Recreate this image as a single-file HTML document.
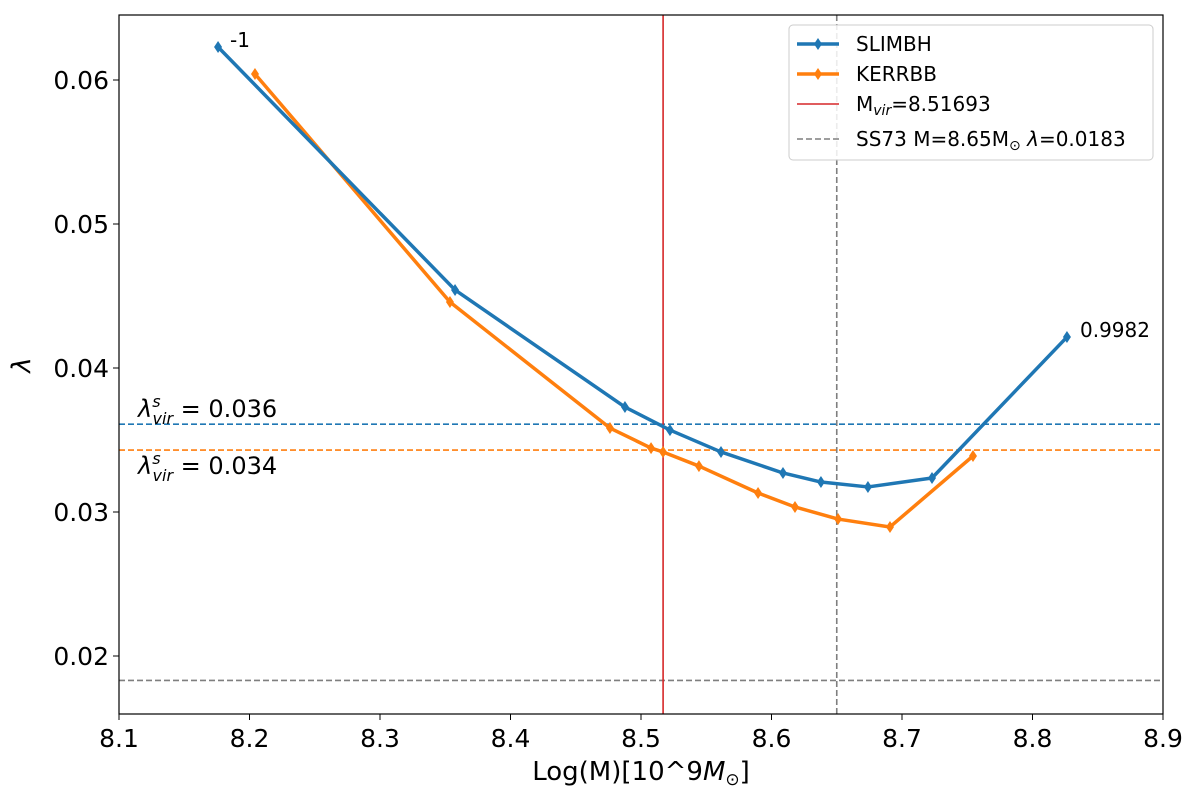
<!DOCTYPE html>
<html><head><meta charset="utf-8"><style>
body{margin:0;background:#fff;}
svg text{font-family:"DejaVu Sans","Liberation Sans",sans-serif;}
</style></head><body>
<svg id="chart" width="1200" height="788" xmlns="http://www.w3.org/2000/svg">
<g id="plot"></g>
</svg>
<script>
const xTicks=[8.1,8.2,8.3,8.4,8.5,8.6,8.7,8.8,8.9];
const yTicks=[0.02,0.03,0.04,0.05,0.06];
const slimX=[8.1759,8.3575,8.4877,8.5222,8.5613,8.6088,8.6379,8.6739,8.7230,8.8264];
const slimY=[0.06229,0.04542,0.03729,0.03569,0.03417,0.03271,0.03208,0.03174,0.03236,0.04215];
const kerrX=[8.2042,8.3536,8.4762,8.5077,8.5169,8.5444,8.5897,8.6180,8.6510,8.6908,8.7544];
const kerrY=[0.06042,0.04458,0.03583,0.03444,0.03417,0.03319,0.03132,0.03035,0.02951,0.02896,0.03389];
const hVals=[0.0361,0.0343,0.0183];
const vVals=[8.51693,8.65];

const L=119,R=1163,T=15,B=714;
const X=v=>L+(v-8.1)*(R-L)/0.8;
const Y=v=>80+(0.06-v)*14400;
const NS="http://www.w3.org/2000/svg";
const g=document.getElementById('plot');
function el(tag,attrs,parent){const e=document.createElementNS(NS,tag);for(const k in attrs)e.setAttribute(k,attrs[k]);(parent||g).appendChild(e);return e;}

const hCols=['#1f77b4','#ff7f0e','#7f7f7f'];
hVals.forEach((v,i)=>{const l=el('line',{x1:L,x2:R,y1:Y(v),y2:Y(v),stroke:hCols[i],'stroke-width':1.6,'stroke-dasharray':'6,3'});

});
const vl=el('line',{x1:X(vVals[0]),x2:X(vVals[0]),y1:T,y2:B,stroke:'#d62728','stroke-width':1.6});


const vl2=el('line',{x1:X(vVals[1]),x2:X(vVals[1]),y1:T,y2:B,stroke:'#7f7f7f','stroke-width':1.6,'stroke-dasharray':'6,3'});



function series(xs,ys,col,name){
 const p=el('polyline',{points:xs.map((x,i)=>X(x)+','+Y(ys[i])).join(' '),fill:'none',stroke:col,'stroke-width':3.5,'stroke-linejoin':'round'});
 
 
 xs.forEach((x,i)=>{const cx=X(x),cy=Y(ys[i]);
  const m=el('polygon',{points:`${cx},${cy-6} ${cx+4},${cy} ${cx},${cy+6} ${cx-4},${cy}`,fill:col});
  
  });
}
series(kerrX,kerrY,'#ff7f0e','kerrbb');
series(slimX,slimY,'#1f77b4','slimbh');

el('rect',{x:L,y:T,width:R-L,height:B-T,fill:'none',stroke:'#000','stroke-width':1.2});
xTicks.forEach(v=>{el('line',{x1:X(v),x2:X(v),y1:B,y2:B+6,stroke:'#000'});
 const t=el('text',{x:X(v),y:B+33,'font-size':25,'text-anchor':'middle'});t.textContent=v.toFixed(1);
 
 });
yTicks.forEach(v=>{el('line',{x1:L-6,x2:L,y1:Y(v),y2:Y(v),stroke:'#000'});
 const t=el('text',{x:L-10,y:Y(v)+9,'font-size':25,'text-anchor':'end'});t.textContent=v.toFixed(2);
 
 });
</script>
<svg width="1200" height="788" style="position:absolute;left:0;top:0" xmlns="http://www.w3.org/2000/svg">
<text x="641" y="780" font-size="26" text-anchor="middle" font-family="DejaVu Sans,sans-serif">Log(M)[10^9<tspan font-style="italic">M</tspan><tspan font-size="17" dy="5">⊙</tspan><tspan dy="-5">]</tspan></text>
<text x="30" y="365" font-size="26" font-style="italic" text-anchor="middle" transform="rotate(-90 30 365)" font-family="DejaVu Sans,sans-serif">λ</text>
<text x="230" y="47" font-size="20" font-family="DejaVu Sans,sans-serif">-1</text>
<text x="1080" y="337" font-size="20" font-family="DejaVu Sans,sans-serif">0.9982</text>
<text x="138" y="417" font-size="24" font-family="DejaVu Sans,sans-serif"><tspan font-style="italic">λ</tspan><tspan font-size="16" dy="-10" font-style="italic">s</tspan><tspan font-size="16" dx="-8" dy="17" font-style="italic">vir</tspan><tspan dy="-7"> = 0.036</tspan></text>
<text x="138" y="474" font-size="24" font-family="DejaVu Sans,sans-serif"><tspan font-style="italic">λ</tspan><tspan font-size="16" dy="-10" font-style="italic">s</tspan><tspan font-size="16" dx="-8" dy="17" font-style="italic">vir</tspan><tspan dy="-7"> = 0.034</tspan></text>
<g font-family="DejaVu Sans,sans-serif" font-size="20">
<rect x="789" y="25" width="364" height="135" fill="#fff" fill-opacity="0.85" stroke="#ccc" rx="4"/>
<line x1="797" x2="839" y1="44" y2="44" stroke="#1f77b4" stroke-width="3.5"/><polygon points="818,38 822,44 818,50 814,44" fill="#1f77b4"/>
<text x="856" y="51">SLIMBH</text>
<line x1="797" x2="839" y1="74" y2="74" stroke="#ff7f0e" stroke-width="3.5"/><polygon points="818,68 822,74 818,80 814,74" fill="#ff7f0e"/>
<text x="856" y="81">KERRBB</text>
<line x1="797" x2="839" y1="104" y2="104" stroke="#d62728" stroke-width="1.6"/>
<text x="856" y="111">M<tspan font-size="14" dy="4" font-style="italic">vir</tspan><tspan dy="-4">=8.51693</tspan></text>
<line x1="797" x2="839" y1="139" y2="139" stroke="#7f7f7f" stroke-width="1.6" stroke-dasharray="6,3"/>
<text x="856" y="146">SS73 M=8.65M<tspan font-size="14" dy="4">⊙</tspan><tspan dy="-4"> </tspan><tspan font-style="italic">λ</tspan>=0.0183</text>
</g>
</svg>
</body></html>
